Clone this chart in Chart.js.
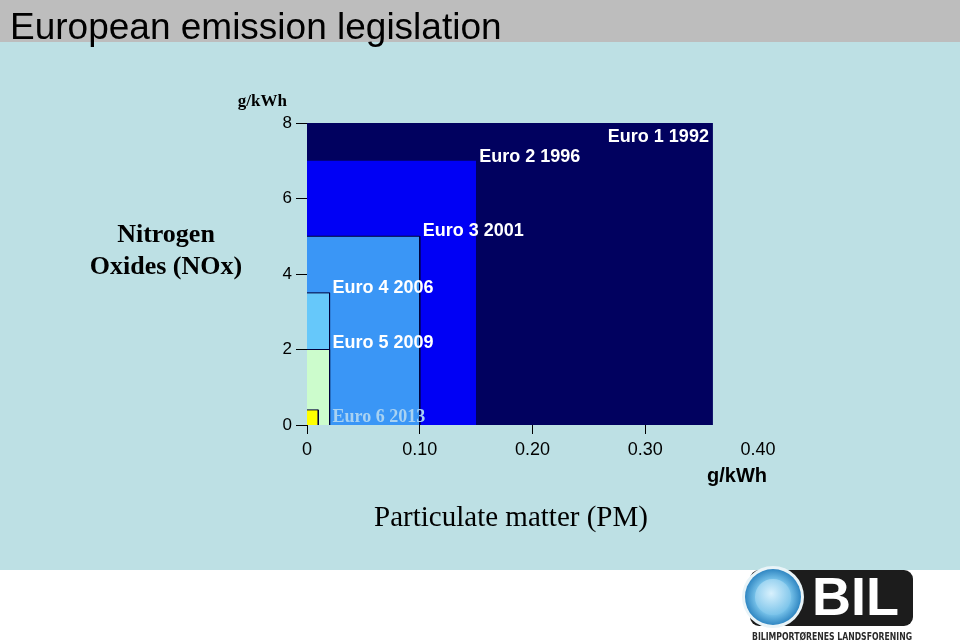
<!DOCTYPE html>
<html>
<head>
<meta charset="utf-8">
<script src="https://cdn.jsdelivr.net/npm/chart.js@4"></script>
<style>
html,body{margin:0;padding:0;width:960px;height:642px;overflow:hidden;background:#fff}
#topo{position:absolute;left:0;top:0;width:960px;height:42px;background:#bdbdbd}
#fundo{position:absolute;left:0;top:42px;width:960px;height:528px;background:#bde0e4}
#grafico{position:absolute;left:0;top:0}
.txt{position:absolute;line-height:1;white-space:nowrap;color:#000}
</style>
</head>
<body>
<div id="topo"></div>
<div id="fundo"></div>
<canvas id="grafico" width="960" height="642"></canvas>

<div class="txt" style="left:10px;top:6px;font:37px 'Liberation Sans',Arial,sans-serif">European emission legislation</div>
<div class="txt" style="right:673px;top:91px;font:bold 17px 'Liberation Serif','Times New Roman',serif">g/kWh</div>
<div class="txt" style="left:66px;top:218px;width:200px;text-align:center;font:bold 26px 'Liberation Serif','Times New Roman',serif;line-height:32px">Nitrogen<br>Oxides (NOx)</div>
<div class="txt" style="right:193px;top:464px;font:bold 20px 'Liberation Sans',Arial,sans-serif">g/kWh</div>
<div class="txt" style="left:311px;top:500px;width:400px;text-align:center;font:29px 'Liberation Serif','Times New Roman',serif">Particulate matter (PM)</div>

<svg style="position:absolute;left:720px;top:560px" width="240" height="82">
<defs>
<radialGradient id="anel" cx="50%" cy="50%" r="50%">
<stop offset="0" stop-color="#e8f7ff"/>
<stop offset="0.6" stop-color="#7cc6ec"/>
<stop offset="1" stop-color="#2f86c2"/>
</radialGradient>
<radialGradient id="miolo" cx="45%" cy="40%" r="60%">
<stop offset="0" stop-color="#d8f1fd"/>
<stop offset="1" stop-color="#7cc4ea"/>
</radialGradient>
</defs>
<rect x="30" y="10" width="163" height="56" rx="9" fill="#1c1c1c"/>
<circle cx="53" cy="37" r="31" fill="#e9f4f8"/>
<circle cx="53" cy="37" r="28" fill="url(#anel)"/>
<circle cx="53" cy="37" r="18" fill="url(#miolo)"/>
<text x="92" y="55" font-family="'Liberation Sans',Arial,sans-serif" font-weight="bold" font-size="54" fill="#fff">BIL</text>
<text x="32" y="80" font-family="'DejaVu Sans',sans-serif" font-weight="bold" font-size="10" fill="#2a2a2a" textLength="160" lengthAdjust="spacingAndGlyphs">BILIMPORTØRENES LANDSFORENING</text>
</svg>

<script>
// normer euro: partikler (PM) og NOx, g/kWh
const normas=['Euro 1 1992','Euro 2 1996','Euro 3 2001','Euro 4 2006','Euro 5 2009','Euro 6 2013']
const pm=[0.36,0.15,0.10,0.02,0.02,0.01]
const nox=[8.0,7.0,5.0,3.5,2.0,0.4]
const ticksX=[0,0.10,0.20,0.30,0.40]
const ticksY=[0,2,4,6,8]

const cores=['#01015f','#0000f5','#3a96f6','#66c8fa','#ccfccc','#ffff00']
const bordas=['#01015f','#0000f5','#00003a','#00003a','#00003a','#00003a']

let datasets=normas.map((n,i)=>({
label:n,
data:[{x:0,y:nox[i]},{x:pm[i],y:nox[i]},{x:pm[i],y:0}],
showLine:true,
fill:'origin',
backgroundColor:cores[i],
borderColor:bordas[i],
borderWidth:i<2?0:1,
pointRadius:0,
tension:0,
order:normas.length-i
}))

const rotulos={
id:'rotulos',
afterDatasetsDraw(chart){
let c=chart.ctx
let xs=chart.scales.x
let ys=chart.scales.y
c.save()
c.textBaseline='alphabetic'
c.fillStyle='#fff'
c.font="bold 18px 'Liberation Sans',Arial,sans-serif"
c.textAlign='right'
c.fillText(normas[0],xs.getPixelForValue(pm[0])-4,ys.getPixelForValue(nox[0])+19)
c.textAlign='left'
let dy=[0,1,0,0,-2]
for(let i=1;i<5;i++){
c.fillText(normas[i],xs.getPixelForValue(pm[i])+3,ys.getPixelForValue(nox[i])+dy[i])
}
c.fillStyle='#a8d2f2'
c.font="bold 18px 'Liberation Serif','Times New Roman',serif"
c.fillText(normas[5],xs.getPixelForValue(pm[4])+3,ys.getPixelForValue(0)-3)
c.restore()
}
}

new Chart(document.getElementById('grafico'),{
type:'scatter',
data:{datasets},
options:{
responsive:false,
animation:false,
layout:{padding:{top:123,left:0,right:202,bottom:0}},
plugins:{
legend:{display:false},
tooltip:{enabled:false}
},
scales:{
x:{
type:'linear',
min:0,
max:0.4,
afterBuildTicks:s=>{s.ticks=ticksX.map(v=>({value:v}))},
afterFit:s=>{s.height=217},
border:{display:false},
grid:{
drawOnChartArea:false,
drawTicks:true,
tickLength:9,
color:ctx=>ctx.tick&&ctx.tick.value===0.4?'rgba(0,0,0,0)':'#000'
},
ticks:{
color:'#000',
padding:5,
maxRotation:0,
font:{family:"'Liberation Sans',Arial,sans-serif",size:18},
callback:v=>v===0?'0':v.toFixed(2)
}
},
y:{
type:'linear',
min:0,
max:8,
afterBuildTicks:s=>{s.ticks=ticksY.map(v=>({value:v}))},
afterFit:s=>{s.width=307},
border:{display:true,color:'#000'},
grid:{
drawOnChartArea:false,
drawTicks:true,
tickLength:11,
color:'#000'
},
ticks:{
color:'#000',
padding:4,
font:{family:"'Liberation Sans',Arial,sans-serif",size:17}
}
}
}
},
plugins:[rotulos]
})
</script>
</body>
</html>
